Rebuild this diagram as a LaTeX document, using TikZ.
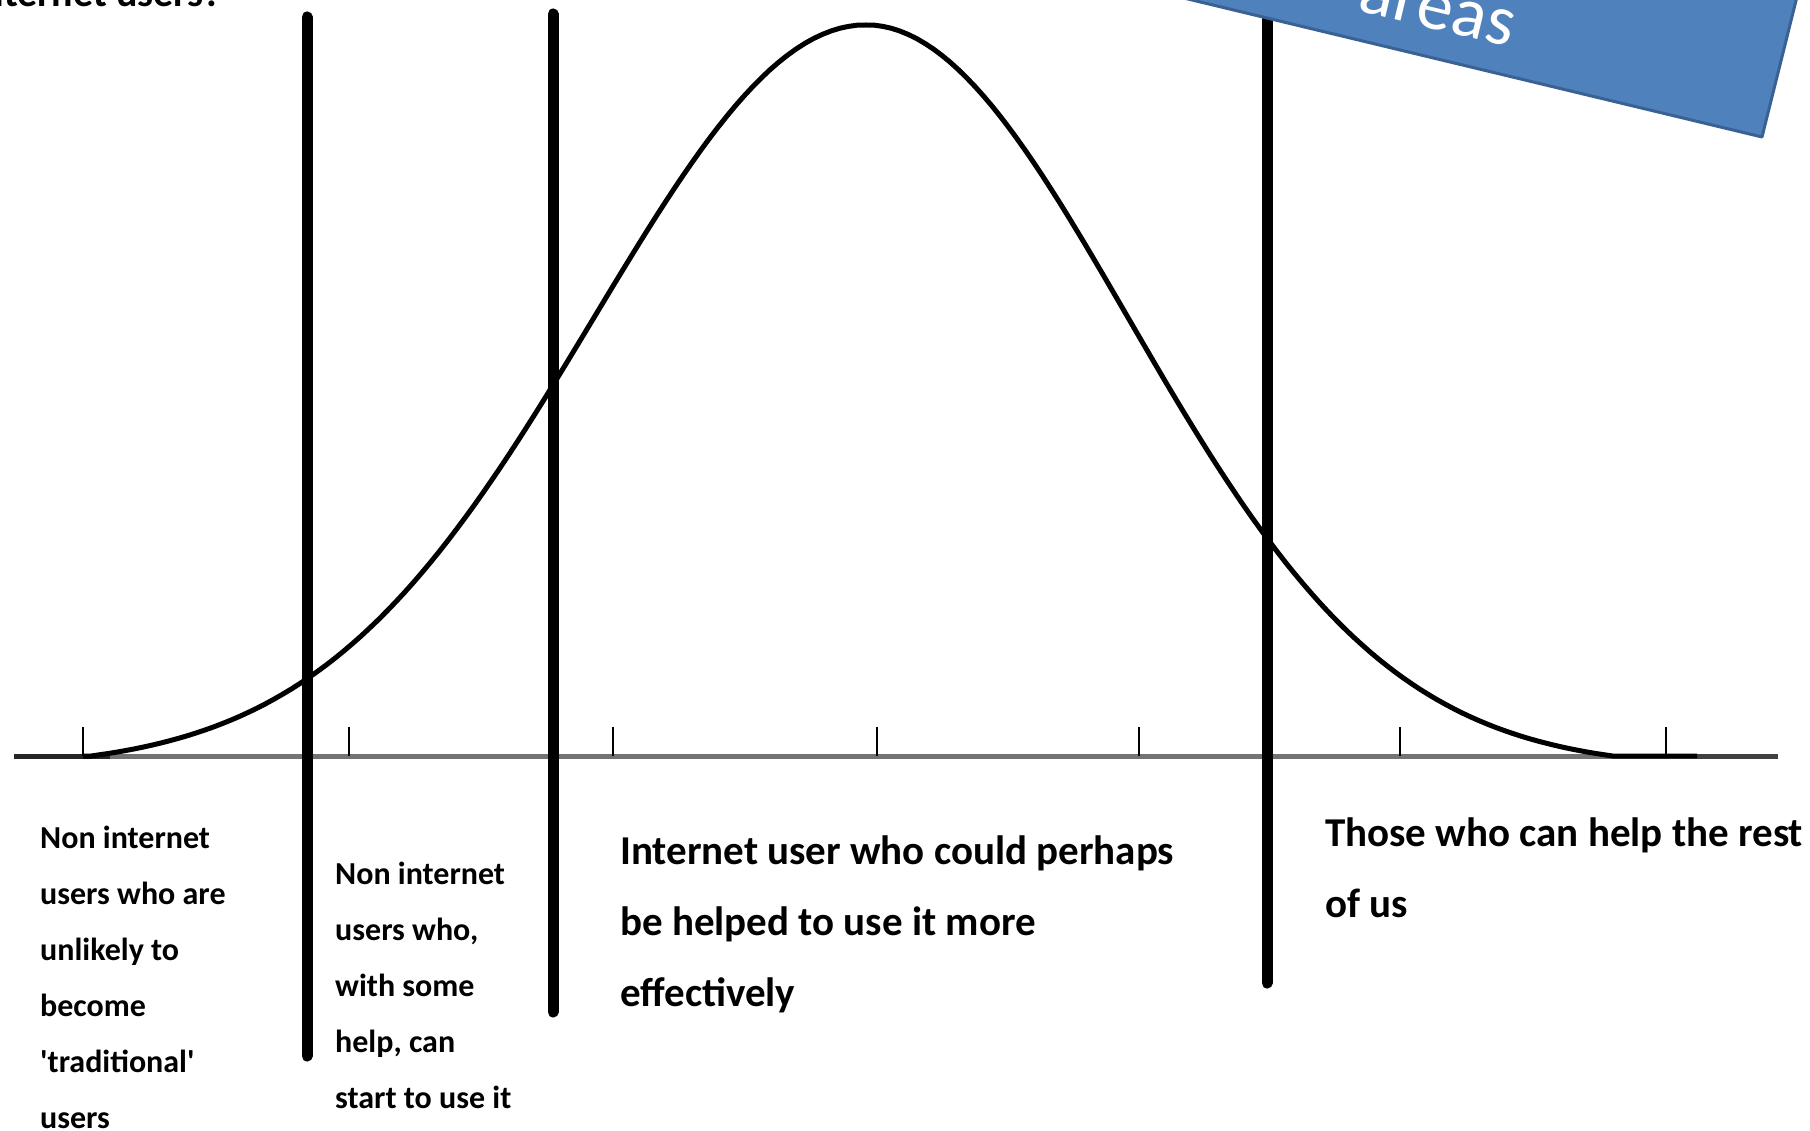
\documentclass[tikz,border=0pt]{standalone}
\usepackage{fontspec}
\setmainfont{Carlito}
\definecolor{boxfill}{HTML}{4F81BD}
\definecolor{boxedge}{HTML}{3A6194}
\begin{document}
\begin{tikzpicture}[x=1pt,y=-1pt,
  divider/.style={line width=11pt,line cap=round,black},
  tickmark/.style={line width=2.5pt,black},
  axisline/.style={line width=5pt,black!55},
  curveline/.style={line width=5pt,black,line join=round},
  biglbl/.style={font=\bfseries\fontsize{41}{71}\selectfont,align=left,anchor=base west,inner sep=0pt},
  smalllbl/.style={font=\bfseries\fontsize{32}{56}\selectfont,align=left,anchor=base west,inner sep=0pt},
  banner/.style={fill=boxfill,draw=boxedge,line width=3pt,line join=round},
  bannertext/.style={font=\fontsize{72}{80}\selectfont,text=white,inner sep=0pt,anchor=base,rotate=-13.5}]
\clip (0,0) rectangle (1810,1131);
\fill[white] (0,0) rectangle (1810,1131);
% axis
\coordinate (axL) at (14,756);
\coordinate (axR) at (1778,756);
\draw[axisline] (axL) -- (axR);
\draw[line width=5pt,black!85] (axL) -- (110,756);
\draw[line width=5pt,black!75] (1697,756) -- (axR);
% ticks
\foreach \t/\xx in {1/83,2/349,3/613,4/877,5/1139,6/1400,7/1666}{
  \coordinate (tk\t a) at (\xx,727);
  \coordinate (tk\t b) at (\xx,756);
  \draw[tickmark] (tk\t a) -- (tk\t b);
}
% bell curve
\draw[curveline] (83,756) -- (91,756)
  -- plot[domain=91:866,samples=90] (\x,{756-731*(exp(-(((\x-866)/272)^2)/2)-0.0172)/0.9828})
  -- plot[domain=866:1613,samples=90] (\x,{756-731*(exp(-(((\x-866)/262)^2)/2)-0.0172)/0.9828})
  -- (1697,756);
% dividers
\coordinate (d1t) at (307,17);  \coordinate (d1b) at (307,1056);
\coordinate (d2t) at (553,14);  \coordinate (d2b) at (553,1012);
\coordinate (d3t) at (1267,-20); \coordinate (d3b) at (1267,983);
\draw[divider] (d1t) -- (d1b);
\draw[divider] (d2t) -- (d2b);
\draw[divider] (d3t) -- (d3b);
% banner
\draw[banner] (1762,137) -- ++(-778,-187) -- ++(97,-389) -- ++(778,187) -- cycle;
\node[bannertext] (ban) at (1433,29) {areas};
% top-left clipped title
\node[font=\bfseries\fontsize{40}{48}\selectfont,anchor=base east,inner sep=0pt] (ttl) at (222,7) {internet users?};
% labels (anchor = baseline of last line)
\node[smalllbl] (l1) at (40,1128) {Non internet\\users who are\\unlikely to\\become\\\textquotesingle traditional\textquotesingle\\users};
\node[smalllbl] (l2) at (335,1108) {Non internet\\users who,\\with some\\help, can\\start to use it};
\node[biglbl] (l3) at (620,1006) {Internet user who could perhaps\\be helped to use it more\\effectively};
\node[biglbl] (l4) at (1325,917) {Those who can help the rest\\of us};
\end{tikzpicture}
\end{document}
